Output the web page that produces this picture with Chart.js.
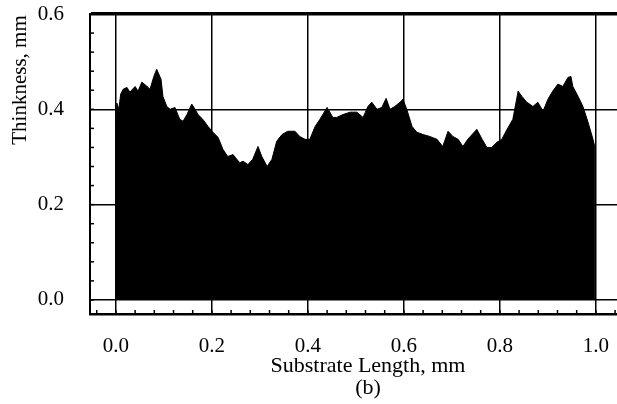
<!DOCTYPE html>
<html>
<head>
<meta charset="utf-8">
<script src="https://cdn.jsdelivr.net/npm/chart.js@4"></script>
<style>
  body { margin: 0; background: #fff; }
  #wrap { width: 617px; height: 404px; }
</style>
</head>
<body>
<div id="wrap"><canvas id="thk" width="617" height="404"></canvas></div>
<script>
// upper envelope of the thickness profile
const lengthMm = [0.000, 0.002, 0.006, 0.010, 0.015, 0.023, 0.029, 0.040, 0.046, 0.054,
  0.065, 0.071, 0.079, 0.085, 0.094, 0.098, 0.106, 0.113, 0.123, 0.133,
  0.140, 0.148, 0.158, 0.165, 0.171, 0.181, 0.192, 0.202, 0.213, 0.223,
  0.233, 0.244, 0.252, 0.258, 0.265, 0.275, 0.285, 0.296, 0.304, 0.315,
  0.325, 0.335, 0.346, 0.358, 0.373, 0.383, 0.394, 0.404, 0.415, 0.425,
  0.440, 0.452, 0.460, 0.473, 0.488, 0.502, 0.515, 0.525, 0.533, 0.544,
  0.554, 0.563, 0.571, 0.581, 0.592, 0.598, 0.606, 0.617, 0.627, 0.640,
  0.654, 0.669, 0.681, 0.692, 0.702, 0.713, 0.723, 0.733, 0.752, 0.763,
  0.773, 0.783, 0.794, 0.804, 0.815, 0.827, 0.838, 0.846, 0.856, 0.869,
  0.879, 0.890, 0.900, 0.910, 0.921, 0.931, 0.942, 0.948, 0.952, 0.963,
  0.973, 0.983, 0.994, 0.998];
const thicknessMm = [0.368, 0.413, 0.400, 0.432, 0.442, 0.446, 0.436, 0.448, 0.438, 0.457,
  0.448, 0.442, 0.469, 0.484, 0.463, 0.427, 0.406, 0.400, 0.404, 0.379,
  0.375, 0.389, 0.411, 0.400, 0.389, 0.379, 0.364, 0.352, 0.341, 0.316,
  0.301, 0.305, 0.295, 0.288, 0.291, 0.284, 0.295, 0.322, 0.301, 0.280,
  0.295, 0.333, 0.347, 0.354, 0.354, 0.343, 0.337, 0.337, 0.364, 0.379,
  0.404, 0.383, 0.383, 0.389, 0.394, 0.394, 0.383, 0.406, 0.415, 0.400,
  0.404, 0.423, 0.400, 0.406, 0.415, 0.421, 0.400, 0.364, 0.352, 0.347,
  0.343, 0.337, 0.322, 0.354, 0.343, 0.337, 0.322, 0.337, 0.358, 0.337,
  0.320, 0.320, 0.331, 0.337, 0.358, 0.379, 0.438, 0.427, 0.415, 0.406,
  0.415, 0.396, 0.421, 0.438, 0.453, 0.448, 0.467, 0.469, 0.448, 0.427,
  0.406, 0.375, 0.337, 0.320];

// tick labels
const xTicks = [0.0, 0.2, 0.4, 0.6, 0.8, 1.0];
const yTicks = [0.0, 0.2, 0.4, 0.6];

const serif = '"Liberation Serif", "DejaVu Serif", serif';

// minor ticks + axis titles drawn by hand
const decor = {
  id: 'decor',
  afterDraw(chart) {
    const ctx = chart.ctx;
    const xs = chart.scales.x, ys = chart.scales.y;
    const area = chart.chartArea;
    ctx.save();
    ctx.strokeStyle = '#000';
    ctx.lineWidth = 1.5;
    // bottom minor ticks every 0.04
    for (let i = -1; i <= 26; i++) {
      const px = xs.getPixelForValue(i * 0.04);
      if (px < area.left || px > area.right) continue;
      ctx.beginPath();
      ctx.moveTo(px, area.bottom);
      ctx.lineTo(px, area.bottom - 4);
      ctx.stroke();
    }
    // left minor ticks every 0.04
    for (let i = 0; i <= 15; i++) {
      const py = ys.getPixelForValue(i * 0.04);
      ctx.beginPath();
      ctx.moveTo(area.left, py);
      ctx.lineTo(area.left + 4, py);
      ctx.stroke();
    }
    ctx.fillStyle = '#000';
    ctx.font = '22px ' + serif;
    ctx.textAlign = 'center';
    ctx.textBaseline = 'middle';
    ctx.fillText('Substrate Length, mm', 368, 366);
    ctx.fillText('(b)', 368, 388);
    ctx.font = '21px ' + serif;
    ctx.translate(20, 80);
    ctx.rotate(-Math.PI / 2);
    ctx.fillText('Thinkness, mm', 0, 0);
    ctx.restore();
  }
};

const chart = new Chart(document.getElementById('thk').getContext('2d'), {
  type: 'line',
  data: {
    datasets: [{
      data: lengthMm.map((x, i) => ({ x: x, y: thicknessMm[i] })),
      borderColor: '#000',
      backgroundColor: '#000',
      borderWidth: 1,
      pointRadius: 0,
      tension: 0,
      fill: 'origin'
    }]
  },
  options: {
    responsive: false,
    animation: false,
    layout: { padding: { top: 14, right: 0, bottom: 0, left: 0 } },
    plugins: { legend: { display: false }, tooltip: { enabled: false } },
    scales: {
      x: {
        type: 'linear',
        min: -0.054,
        max: 1.044,
        afterFit: (s) => { s.height = 90; s.paddingLeft = 0; s.paddingRight = 0; },
        afterBuildTicks: (s) => { s.ticks = xTicks.map(v => ({ value: v })); },
        grid: { color: '#000', lineWidth: 1.5, drawTicks: false },
        border: { color: '#000', width: 2.5 },
        ticks: {
          padding: 20,
          color: '#000',
          font: { family: serif, size: 21 },
          callback: (v) => v.toFixed(1)
        }
      },
      y: {
        min: -0.0295,
        max: 0.6,
        afterFit: (s) => { s.width = 90; s.paddingTop = 0; s.paddingBottom = 0; },
        afterBuildTicks: (s) => { s.ticks = yTicks.map(v => ({ value: v })); },
        grid: {
          color: '#000',
          lineWidth: (c) => (c.tick && c.tick.value === 0.6 ? 3.5 : 1.5),
          drawTicks: false
        },
        border: { color: '#000', width: 2 },
        ticks: {
          padding: 26,
          color: '#000',
          font: { family: serif, size: 21 },
          callback: (v) => v.toFixed(1)
        }
      }
    }
  },
  plugins: [decor]
});
</script>
</body>
</html>
